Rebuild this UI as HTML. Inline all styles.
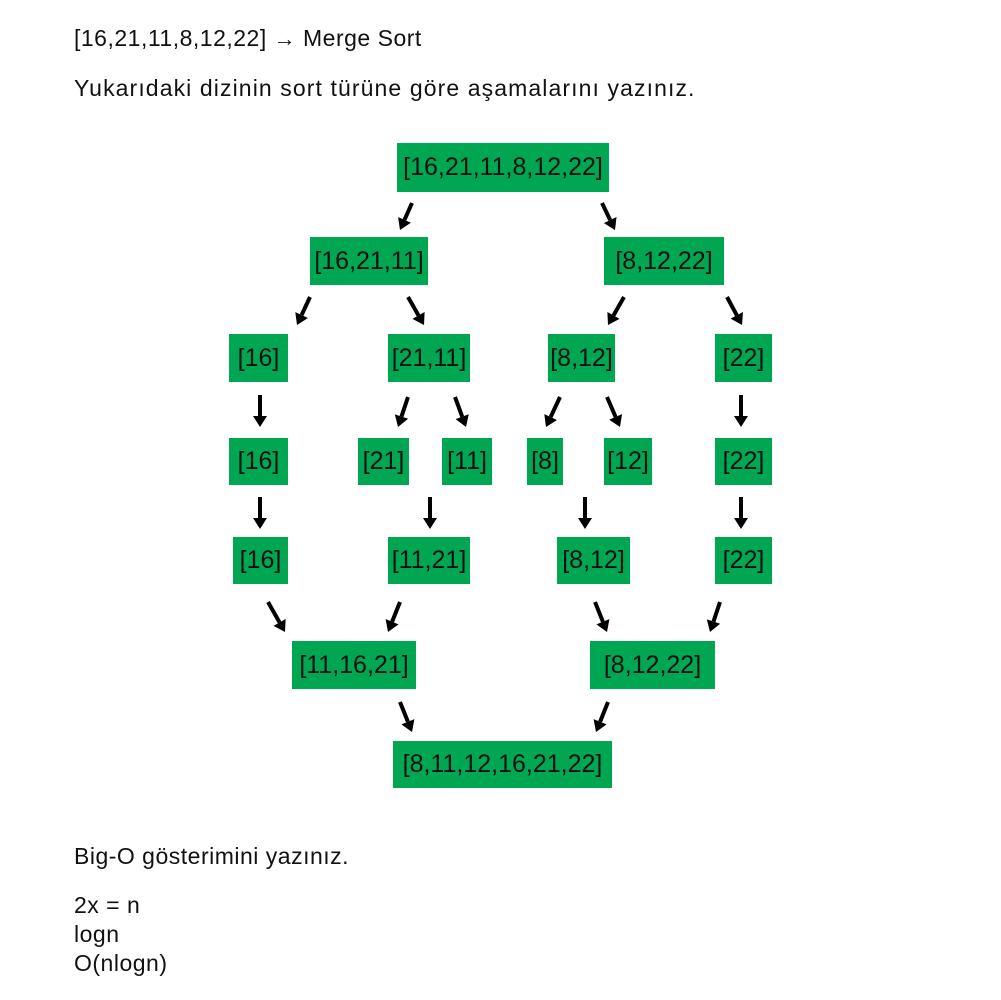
<!DOCTYPE html>
<html><head><meta charset="utf-8"><style>
body{margin:0;width:1001px;height:1000px;background:#fff;position:relative;font-family:"Liberation Sans",sans-serif;color:#111;overflow:hidden}
.t{position:absolute;left:74px;font-size:23px;line-height:29px;letter-spacing:0.5px}
.b{position:absolute;background:#00a651;display:flex;align-items:center;justify-content:center;font-size:25px;letter-spacing:0px}
svg{position:absolute;left:0;top:0}
</style></head><body>
<div class="t" style="top:24px">[16,21,11,8,12,22] <span style="font-size:22px">→</span> Merge Sort</div>
<div class="t" style="top:74px;letter-spacing:1.1px">Yukarıdaki dizinin sort türüne göre aşamalarını yazınız.</div>
<div class="t" style="top:842px">Big-O gösterimini yazınız.</div>
<div class="t" style="top:891px">2x = n<br>logn<br>O(nlogn)</div>
<div id="boxes"></div>
<svg id="arr" width="1001" height="1000"></svg>
<script>
const labels=["[16,21,11,8,12,22]","[16,21,11]","[8,12,22]","[16]","[21,11]","[8,12]","[22]","[16]","[21]","[11]","[8]","[12]","[22]","[16]","[11,21]","[8,12]","[22]","[11,16,21]","[8,12,22]","[8,11,12,16,21,22]"];
const rects=[[397,143,212,49],[310,237,118,48],[604,237,120,48],[229,334,59,48],[388,334,82,48],[548,334,67,48],[715,334,57,48],[229,438,59,47],[358,438,51,47],[442,438,50,47],[527,438,36,47],[604,438,48,47],[715,438,57,47],[233,537,55,47],[388,537,82,47],[557,537,73,47],[715,537,57,47],[292,641,124,48],[590,641,125,48],[393,741,219,47]];
const arrows=[[412,203,400,230],[602,203,615,230],[310,297,297,325],[408,297,424,325],[624,297,608,325],[727,297,742,325],[260,395,260,427],[408,397,398,427],[455,397,466,427],[560,397,546,427],[607,397,620,427],[741,395,741,427],[260,497,260,529],[430,497,430,529],[585,497,585,529],[741,497,741,529],[268,602,285,632],[400,602,388,632],[595,602,607,632],[720,602,710,632],[400,702,412,732],[608,702,596,732]];
const bx=document.getElementById('boxes');
labels.forEach((l,i)=>{const r=rects[i];const d=document.createElement('div');d.className='b';


d.style.cssText=`left:${r[0]}px;top:${r[1]}px;width:${r[2]}px;height:${r[3]}px`;d.textContent=l;bx.appendChild(d);});
const sv=document.getElementById('arr');const NS='http://www.w3.org/2000/svg';
arrows.forEach(a=>{const[x1,y1,x2,y2]=a;const dx=x2-x1,dy=y2-y1,L=Math.hypot(dx,dy),ux=dx/L,uy=dy/L;
const bx2=x2-ux*11,by2=y2-uy*11;
const ln=document.createElementNS(NS,'line');


ln.setAttribute('x1',x1);ln.setAttribute('y1',y1);ln.setAttribute('x2',bx2);ln.setAttribute('y2',by2);ln.setAttribute('stroke','#000');ln.setAttribute('stroke-width','4');sv.appendChild(ln);
const p=document.createElementNS(NS,'polygon');


const px=-uy,py=ux;
p.setAttribute('points',`${x2},${y2} ${bx2+px*7},${by2+py*7} ${bx2-px*7},${by2-py*7}`);sv.appendChild(p);});
</script>
</body></html>
